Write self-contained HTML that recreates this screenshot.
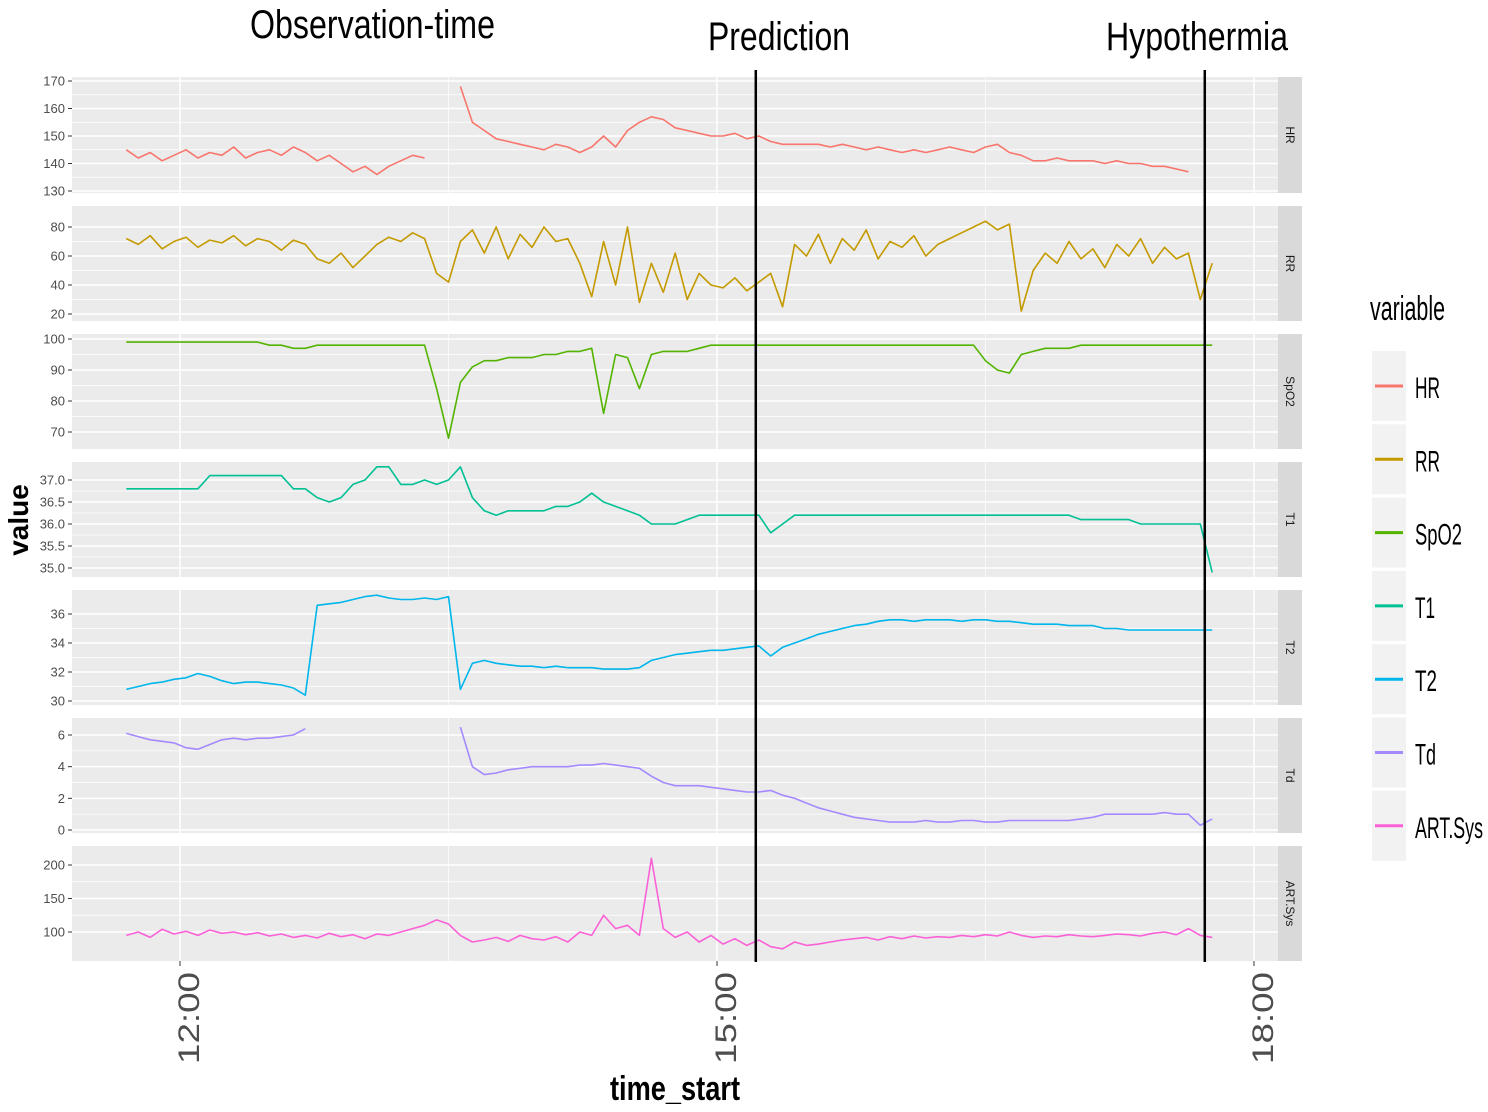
<!DOCTYPE html>
<html><head><meta charset="utf-8"><style>
body{margin:0;background:#fff;}
svg{display:block;font-family:"Liberation Sans",sans-serif;}
</style></head><body>
<svg id="chart" width="1488" height="1112" viewBox="0 0 1488 1112">
<g id="panels"></g>
<g id="annot">
<text x="250" y="38" font-size="40" textLength="245" lengthAdjust="spacingAndGlyphs">Observation-time</text>
<text x="708" y="50" font-size="40" textLength="142" lengthAdjust="spacingAndGlyphs">Prediction</text>
<text x="1106" y="50" font-size="40" textLength="182" lengthAdjust="spacingAndGlyphs">Hypothermia</text>
<text transform="translate(28,520) rotate(-90)" font-size="28" font-weight="bold" text-anchor="middle">value</text>
<text x="610" y="1100" font-size="34" font-weight="bold" textLength="130" lengthAdjust="spacingAndGlyphs">time_start</text>
</g>
<g id="legend"></g>
</svg>
<script>
const times = [];
for (let i = 0; i < 92; i++) times.push(-18 + 4 * i);
const seriesNames = ['HR','RR','SpO2','T1','T2','Td','ART.Sys'];
const hrValues = [145,142,144,141,143,145,142,144,143,146,142,144,145,143,146,144,141,143,140,137,139,136,139,141,143,142,
null,null,168,155,152,149,148,147,146,145,147,146,144,146,150,146,152,155,157,156,153,152,151,150,150,151,149,150,148,147,147,147,147,146,147,146,145,146,145,144,145,144,145,146,145,144,146,147,144,143,141,141,142,141,141,141,140,141,140,140,139,139,138,137,null,136];
const rrValues = [72,68,74,65,70,73,66,71,69,74,67,72,70,64,71,68,58,55,62,52,60,68,73,70,76,72,
48,42,70,78,62,80,58,75,66,80,70,72,55,32,70,40,80,28,55,35,62,30,48,40,38,45,36,42,48,25,
68,60,75,55,72,64,78,58,70,66,74,60,68,72,76,80,84,78,82,22,50,62,55,70,58,65,52,68,60,72,55,66,58,62,30,55];
const spo2Values = [99,99,99,99,99,99,99,99,99,99,99,99,98,98,97,97,98,98,98,98,98,98,98,98,98,98,
84,68,86,91,93,93,94,94,94,95,95,96,96,97,76,95,94,84,95,96,96,96,97,
98,98,98,98,98,98,98,98,98,98,98,98,98,98,98,98,98,98,98,98,98,98,
98,93,90,89,95,96,97,97,97,98,98,98,98,98,98,98,98,98,98,98,98];
const t1Values = [36.8,36.8,36.8,36.8,36.8,36.8,36.8,37.1,37.1,37.1,37.1,37.1,37.1,37.1,36.8,36.8,36.6,36.5,36.6,36.9,37.0,37.3,37.3,36.9,36.9,37.0,
36.9,37.0,37.3,36.6,36.3,36.2,36.3,36.3,36.3,36.3,36.4,36.4,36.5,36.7,36.5,36.4,36.3,36.2,36.0,36.0,36.0,36.1,36.2,
36.2,36.2,36.2,36.2,36.2,35.8,36.0,36.2,
36.2,36.2,36.2,36.2,36.2,36.2,36.2,36.2,36.2,36.2,36.2,36.2,36.2,36.2,36.2,36.2,36.2,36.2,36.2,36.2,36.2,36.2,36.2,
36.1,36.1,36.1,36.1,36.1,36.0,36.0,36.0,36.0,36.0,36.0,34.9];
const t2Values = [30.8,31.0,31.2,31.3,31.5,31.6,31.9,31.7,31.4,31.2,31.3,31.3,31.2,31.1,30.9,30.4,
36.6,36.7,36.8,37.0,37.2,37.3,37.1,37.0,37.0,37.1,37.0,37.2,30.8,
32.6,32.8,32.6,32.5,32.4,32.4,32.3,32.4,32.3,32.3,32.3,32.2,32.2,32.2,32.3,32.8,33.0,33.2,33.3,33.4,33.5,33.5,33.6,33.7,33.8,33.1,33.7,34.0,34.3,34.6,34.8,35.0,35.2,35.3,35.5,35.6,35.6,35.5,35.6,35.6,35.6,35.5,35.6,35.6,35.5,35.5,35.4,35.3,35.3,35.3,35.2,35.2,35.2,35.0,35.0,34.9,34.9,34.9,34.9,34.9,34.9,34.9,34.9];
const tdValues = [6.1,5.9,5.7,5.6,5.5,5.2,5.1,5.4,5.7,5.8,5.7,5.8,5.8,5.9,6.0,6.4,
null,null,null,null,null,null,null,null,null,null,null,null,
6.5,4.0,3.5,3.6,3.8,3.9,4.0,4.0,4.0,4.0,4.1,4.1,4.2,4.1,4.0,3.9,3.4,3.0,2.8,2.8,2.8,2.7,2.6,2.5,2.4,2.4,2.5,2.2,2.0,1.7,1.4,1.2,1.0,0.8,0.7,0.6,0.5,
0.5,0.5,0.6,0.5,0.5,0.6,0.6,0.5,0.5,0.6,0.6,0.6,0.6,0.6,0.6,0.7,0.8,1.0,1.0,1.0,1.0,1.0,1.1,1.0,1.0,0.3,0.7];
const artValues = [95,100,92,104,97,101,95,103,98,100,96,99,94,97,92,95,91,98,93,96,90,97,95,100,105,110,
118,112,95,85,88,92,86,95,90,88,93,85,
100,95,125,105,110,95,210,105,92,100,85,
95,82,90,80,88,78,75,85,80,82,
85,88,90,92,88,93,90,94,91,93,92,95,93,96,94,100,95,92,94,93,96,94,93,95,97,96,94,98,100,96,105,95,92];
const hrTicks = [130,140,150,160,170];
const rrTicks = [20,40,60,80];
const spo2Ticks = [70,80,90,100];
const t1Ticks = ['35.0','35.5','36.0','36.5','37.0'];
const t2Ticks = [30,32,34,36];
const tdTicks = [0,2,4,6];
const artTicks = [100,150,200];
const xTickLabels = ['12:00','15:00','18:00'];
const xTickMinutes = [0,180,360];
const eventMinutes = [193,343.5];
const legendWidths = [25,25,47,20,22,21,68];

const NS='http://www.w3.org/2000/svg';
function mk(tag,attrs,parent){const e=document.createElementNS(NS,tag);for(const k in attrs)e.setAttribute(k,attrs[k]);parent.appendChild(e);return e;}
const X0=72,X1=1278;
function xScale(m){return 180+m*179/60;}
const panels=[
 {name:'HR',vals:hrValues,ticks:hrTicks,top:77,bot:193,v1:130,p1:191,v2:170,p2:81,color:'#F8766D'},
 {name:'RR',vals:rrValues,ticks:rrTicks,top:206,bot:321,v1:20,p1:314,v2:80,p2:227,color:'#C49A00'},
 {name:'SpO2',vals:spo2Values,ticks:spo2Ticks,top:334,bot:449,v1:70,p1:432,v2:100,p2:339,color:'#53B400'},
 {name:'T1',vals:t1Values,ticks:t1Ticks,top:462,bot:577,v1:35,p1:568,v2:37,p2:480,color:'#00C094'},
 {name:'T2',vals:t2Values,ticks:t2Ticks,top:590,bot:705,v1:30,p1:701,v2:36,p2:614,color:'#00B6EB'},
 {name:'Td',vals:tdValues,ticks:tdTicks,top:718,bot:833,v1:0,p1:830,v2:6,p2:735,color:'#A58AFF'},
 {name:'ART.Sys',vals:artValues,ticks:artTicks,top:846,bot:961,v1:100,p1:932,v2:200,p2:865,color:'#FB61D7'}
];
const g=document.getElementById('panels');
panels.forEach(p=>{
 const y=v=>p.p1+(v-p.v1)*(p.p2-p.p1)/(p.v2-p.v1);
 const pg=mk('g',{},g);
 
 
 mk('rect',{x:X0,y:p.top,width:X1-X0,height:p.bot-p.top,fill:'#ebebeb'},pg);
 const tv=p.ticks.map(Number);
 for(let i=0;i<tv.length-1;i++){const yy=y((tv[i]+tv[i+1])/2);mk('line',{x1:X0,x2:X1,y1:yy,y2:yy,stroke:'#fff','stroke-width':0.7},pg);}
 [90,270].forEach(m=>mk('line',{x1:xScale(m),x2:xScale(m),y1:p.top,y2:p.bot,stroke:'#fff','stroke-width':0.7},pg));
 tv.forEach((v,i)=>{const yy=y(v);
  mk('line',{x1:X0,x2:X1,y1:yy,y2:yy,stroke:'#fff','stroke-width':1.5},pg);
  mk('line',{x1:X0-4,x2:X0,y1:yy,y2:yy,stroke:'#333','stroke-width':1},pg);
  const t=mk('text',{x:X0-7,y:yy+4.5,'font-size':13,'text-anchor':'end',fill:'#4d4d4d'},pg);
  t.textContent=p.ticks[i];
  
  
 });
 xTickMinutes.forEach(m=>mk('line',{x1:xScale(m),x2:xScale(m),y1:p.top,y2:p.bot,stroke:'#fff','stroke-width':1.5},pg));
 const sr=mk('rect',{x:X1,y:p.top,width:24,height:p.bot-p.top,fill:'#d9d9d9'},pg);
 
 
 const st=mk('text',{transform:`translate(${X1+8},${(p.top+p.bot)/2}) rotate(90)`,'font-size':12,'text-anchor':'middle',fill:'#1a1a1a'},pg);
 st.textContent=p.name;
 let d='',pen=false;
 p.vals.forEach((v,i)=>{if(v===null||v===undefined){pen=false;return;}d+=(pen?'L':'M')+xScale(times[i]).toFixed(1)+','+y(v).toFixed(1);pen=true;});
 const path=mk('path',{d:d,fill:'none',stroke:p.color,'stroke-width':1.6,'stroke-linejoin':'round'},pg);
 
 
});
xTickMinutes.forEach((m,i)=>{const xx=xScale(m);
 mk('line',{x1:xx,x2:xx,y1:961,y2:966,stroke:'#333'},g);
 const t=mk('text',{transform:`translate(${xx+19},972) rotate(-90)`,'font-size':30,fill:'#4d4d4d','text-anchor':'end',textLength:92,lengthAdjust:'spacingAndGlyphs'},g);
 t.textContent=xTickLabels[i];
 
 
});
eventMinutes.forEach(m=>{const l=mk('line',{x1:xScale(m),x2:xScale(m),y1:70,y2:962,stroke:'#000','stroke-width':2.5},g);
 
 
});
const lg=document.getElementById('legend');
const lt=mk('text',{x:1370,y:320,'font-size':34,textLength:75,lengthAdjust:'spacingAndGlyphs'},lg);lt.textContent='variable';
panels.forEach((p,i)=>{const cy=386+i*73.3;
 const e=mk('g',{},lg);
 
 
 mk('rect',{x:1372,y:cy-35,width:34,height:70,fill:'#f2f2f2'},e);
 mk('line',{x1:1375,x2:1403,y1:cy,y2:cy,stroke:p.color,'stroke-width':3},e);
 const t=mk('text',{x:1415,y:cy+12,'font-size':30,textLength:legendWidths[i],lengthAdjust:'spacingAndGlyphs'},e);t.textContent=p.name;
});
</script>
</body></html>
